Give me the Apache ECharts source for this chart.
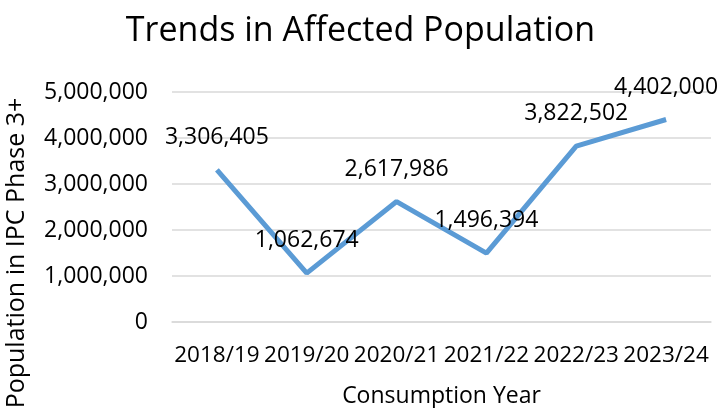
<!DOCTYPE html>
<html><head><meta charset="utf-8">
<script src="https://cdn.jsdelivr.net/npm/echarts@6/dist/echarts.min.js"></script>
<style>html,body{margin:0;padding:0;background:#fff}#c{width:721px;height:408px}</style>
</head><body><div id="c"></div>
<script>
const categories = ['2018/19','2019/20','2020/21','2021/22','2022/23','2023/24'];
const affected = [3306405, 1062674, 2617986, 1496394, 3822502, 4402000];
const yTicks = [0, 1000000, 2000000, 3000000, 4000000, 5000000];

const FONT = 'Open Sans';
const fmt = v => v.toLocaleString('en-US');
const chart = echarts.init(document.getElementById('c'));
chart.setOption({
  animation: false,
  backgroundColor: '#fff',
  title: {
    text: 'Trends in Affected Population', left: 'center', top: 9,
    textStyle: {fontFamily: FONT, fontSize: 34, fontWeight: 'normal', color: '#000'}
  },
  grid: {left: 172, right: 10, top: 92, bottom: 86, containLabel: false, outerBoundsMode: 'none'},
  xAxis: {
    type: 'category', data: categories, boundaryGap: true,
    axisLine: {lineStyle: {color: '#d9d9d9', width: 1.5}},
    axisTick: {show: false},
    axisLabel: {fontFamily: FONT, fontSize: 22.5, color: '#000', margin: 22, interval: 0},
    name: 'Consumption Year', nameLocation: 'middle', nameGap: 63,
    nameTextStyle: {fontFamily: FONT, fontSize: 23, color: '#000'}
  },
  yAxis: {
    type: 'value', min: yTicks[0], max: yTicks[yTicks.length-1], interval: 1000000,
    axisLine: {show: false}, axisTick: {show: false},
    splitLine: {lineStyle: {color: '#d9d9d9', width: 1.5}},
    axisLabel: {fontFamily: FONT, fontSize: 23, color: '#000', margin: 24, formatter: v => fmt(v)},
    name: 'Population in IPC Phase 3+', nameLocation: 'middle', nameGap: 143,
    nameTextStyle: {fontFamily: FONT, fontSize: 25, color: '#000', padding: [0, 92, 0, 0]}
  },
  series: [{
    type: 'line', data: affected, symbol: 'circle', symbolSize: 0.1, showSymbol: true,
    itemStyle: {color: 'transparent', borderWidth: 0},
    lineStyle: {color: '#5B9BD5', width: 5},
    label: {show: true, position: 'top', distance: 21, fontFamily: FONT, fontSize: 23, color: '#000',
      formatter: p => fmt(p.value)},
    labelLayout: {hideOverlap: false}
  }]
});
</script></body></html>
